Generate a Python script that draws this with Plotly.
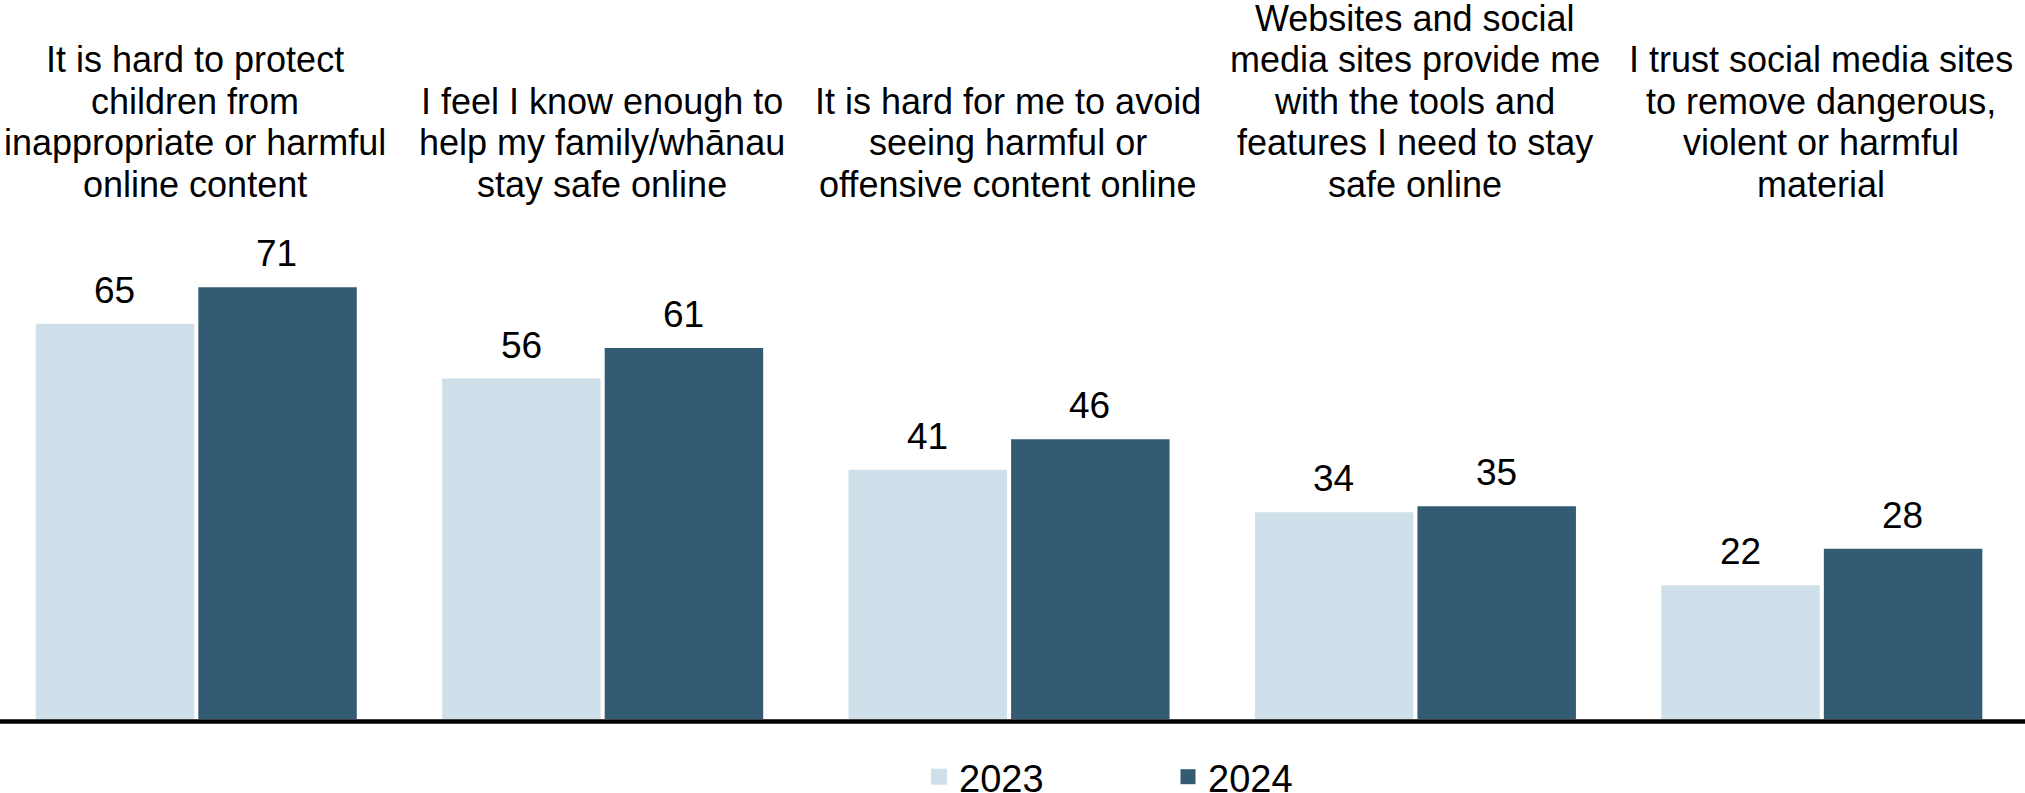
import plotly.graph_objects as go

# Survey statements (each drawn as a stacked, centred header above its bar pair)
categories = [
    ["It is hard to protect", "children from", "inappropriate or harmful", "online content"],
    ["I feel I know enough to", "help my family/whānau", "stay safe online"],
    ["It is hard for me to avoid", "seeing harmful or", "offensive content online"],
    ["Websites and social", "media sites provide me", "with the tools and", "features I need to stay", "safe online"],
    ["I trust social media sites", "to remove dangerous,", "violent or harmful", "material"],
]
years = ["2023", "2024"]
values_2023 = [65, 56, 41, 34, 22]
values_2024 = [71, 61, 46, 35, 28]

COLOR_2023 = "#D0E0EA"
COLOR_2024 = "#345B74"
FONT = "Liberation Sans, Arial, sans-serif"

# Page geometry (pixels)
W, H = 2025, 793
PLOT_TOP, PLOT_BOTTOM = 111, 719
PLOT_H = PLOT_BOTTOM - PLOT_TOP

xs = list(range(len(categories)))
BAR_W = 0.39

fig = go.Figure()
fig.add_trace(go.Bar(
    x=xs, y=values_2023, name=years[0], width=BAR_W, offset=-0.393,
    marker=dict(color=COLOR_2023, line=dict(width=0)), showlegend=False,
))
fig.add_trace(go.Bar(
    x=xs, y=values_2024, name=years[1], width=BAR_W, offset=0.007,
    marker=dict(color=COLOR_2024, line=dict(width=0)), showlegend=False,
))

# Legend entries with square swatches
fig.add_trace(go.Scatter(
    x=[None], y=[None], mode="markers", name=years[0],
    marker=dict(symbol="square", size=20, color=COLOR_2023),
))
fig.add_trace(go.Scatter(
    x=[None], y=[None], mode="markers", name=years[1],
    marker=dict(symbol="square", size=15, color=COLOR_2024),
))

annotations = []
# Value labels above each bar
for vals, shift in ((values_2023, -0.1985), (values_2024, 0.2005)):
    for i, v in enumerate(vals):
        annotations.append(dict(
            x=i + shift, y=v, xref="x", yref="y", text=str(v),
            showarrow=False, yanchor="bottom", yshift=11,
            font=dict(family=FONT, size=37, color="#000000"),
        ))

# Category headers, bottom-aligned, one annotation per line for tight leading
LAST_BASELINE = 197
LEADING = 41.5
FS = 36
for i, lines in enumerate(categories):
    n = len(lines)
    for k, line in enumerate(lines):
        baseline = LAST_BASELINE - LEADING * (n - 1 - k)
        center_px = baseline - 0.35 * FS
        annotations.append(dict(
            x=i, y=(PLOT_BOTTOM - center_px) / PLOT_H, xref="x", yref="paper",
            text=line, showarrow=False, yanchor="middle", xanchor="center",
            font=dict(family=FONT, size=FS, color="#000000"),
        ))

fig.update_layout(
    width=W, height=H,
    margin=dict(l=0, r=0, t=PLOT_TOP, b=H - PLOT_BOTTOM, pad=0, autoexpand=False),
    paper_bgcolor="white", plot_bgcolor="white",
    barmode="overlay",
    xaxis=dict(range=[-0.481, 4.502], showgrid=False, zeroline=False,
               showticklabels=False, ticks="", showline=False, fixedrange=True),
    yaxis=dict(range=[0, 100], showgrid=False, zeroline=False,
               showticklabels=False, ticks="", showline=False, fixedrange=True),
    annotations=annotations,
    # Baseline rule along the foot of the bars, spanning the full width
    shapes=[dict(
        type="line", xref="paper", x0=0, x1=1,
        yref="paper", ysizemode="pixel", yanchor=0, y0=-2.5, y1=-2.5,
        line=dict(color="#000000", width=4.5), layer="above",
    )],
    showlegend=True,
    legend=dict(
        orientation="h", xref="container", x=919 / W, xanchor="left",
        yref="container", y=1 - 777 / H, yanchor="middle",
        entrywidth=204, entrywidthmode="pixels",
        font=dict(family=FONT, size=38, color="#000000"),
        bgcolor="rgba(0,0,0,0)", borderwidth=0,
        itemclick=False, itemdoubleclick=False,
    ),
    font=dict(family=FONT),
)

fig.write_html("out.html", config={"displayModeBar": False})
